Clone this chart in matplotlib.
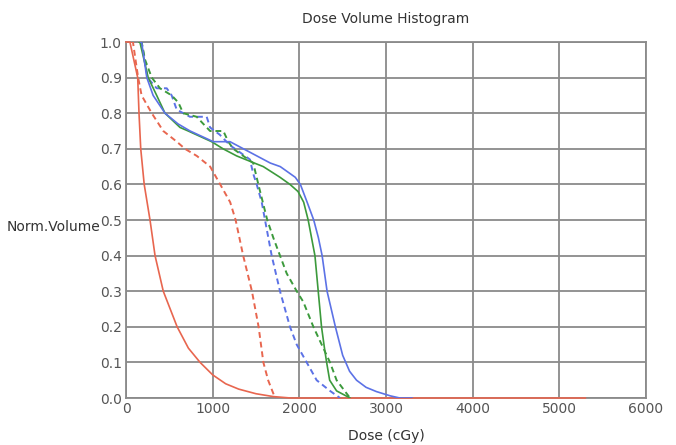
import matplotlib.pyplot as plt
import numpy as np

# dose (cGy) / normalised volume
red_solid_x = [0, 45, 135, 150, 170, 210, 277, 335, 430, 590, 720, 855, 1000, 1150, 1300, 1500, 1700, 1900, 5300]
red_solid_y = [1.0, 1.0, 0.9, 0.8, 0.7, 0.6, 0.5, 0.4, 0.3, 0.2, 0.14, 0.1, 0.065, 0.04, 0.025, 0.012, 0.004, 0.0, 0.0]

red_dash_x = [60, 80, 140, 180, 297, 430, 586, 680, 817, 971, 1087, 1202, 1265, 1352, 1453, 1530, 1585, 1640, 1720]
red_dash_y = [1.0, 1.0, 0.9, 0.85, 0.8, 0.75, 0.72, 0.7, 0.68, 0.65, 0.6, 0.55, 0.5, 0.4, 0.3, 0.2, 0.1, 0.05, 0.0]

blue_solid_x = [170, 180, 240, 313, 450, 600, 740, 1007, 1200, 1355, 1510, 1665, 1780, 1953, 2012, 2090, 2166,
                2220, 2263, 2320, 2416, 2500, 2580, 2660, 2770, 2890, 3050, 3160, 3300]
blue_solid_y = [1.0, 1.0, 0.9, 0.85, 0.8, 0.77, 0.75, 0.72, 0.72, 0.7, 0.68, 0.66, 0.65, 0.62, 0.6, 0.55, 0.5,
                0.45, 0.4, 0.3, 0.2, 0.12, 0.075, 0.05, 0.03, 0.018, 0.006, 0.0, 0.0]

green_solid_x = [150, 160, 256, 354, 450, 623, 718, 988, 1120, 1277, 1430, 1584, 1777, 1892, 1985, 2050, 2102,
                 2180, 2218, 2256, 2290, 2315, 2350, 2430, 2585]
green_solid_y = [1.0, 1.0, 0.9, 0.85, 0.8, 0.76, 0.75, 0.72, 0.7, 0.68, 0.665, 0.65, 0.62, 0.6, 0.58, 0.55, 0.5,
                 0.4, 0.3, 0.2, 0.14, 0.1, 0.05, 0.02, 0.0]

blue_dash_x = [170, 180, 248, 354, 470, 527, 585, 738, 931, 970, 1080, 1200, 1315, 1430, 1468, 1508, 1566, 1604,
               1681, 1777, 1892, 1970, 2085, 2200, 2354, 2470]
blue_dash_y = [1.0, 1.0, 0.9, 0.87, 0.87, 0.85, 0.81, 0.79, 0.79, 0.76, 0.74, 0.71, 0.69, 0.67, 0.63, 0.6, 0.55,
               0.5, 0.4, 0.3, 0.2, 0.15, 0.1, 0.05, 0.02, 0.0]

green_dash_x = [160, 180, 220, 297, 392, 527, 604, 660, 815, 892, 970, 1123, 1180, 1238, 1353, 1468, 1527, 1630,
                1700, 1777, 1854, 1970, 2046, 2162, 2354, 2430, 2585]
green_dash_y = [1.0, 1.0, 0.95, 0.9, 0.87, 0.85, 0.83, 0.8, 0.79, 0.77, 0.75, 0.75, 0.72, 0.7, 0.68, 0.66, 0.6,
                0.5, 0.45, 0.4, 0.35, 0.3, 0.27, 0.2, 0.1, 0.05, 0.0]

red = "#e8664f"
blue = "#5c72e6"
green = "#3c9a3c"
text_col = "#555555"

fig = plt.figure(figsize=(6.76, 4.45), dpi=100)
ax = fig.add_axes([0.1864, 0.1056, 0.7692, 0.8000])

ax.plot(red_solid_x, red_solid_y, color=red, lw=1.2, zorder=3, clip_on=False)
ax.plot(red_dash_x, red_dash_y, color=red, lw=1.4, ls=(0, (3, 2)), zorder=3)
ax.plot(blue_dash_x, blue_dash_y, color=blue, lw=1.4, ls=(0, (3, 2)), zorder=3)
ax.plot(green_dash_x, green_dash_y, color=green, lw=1.4, ls=(0, (3, 2)), zorder=3)
ax.plot(green_solid_x, green_solid_y, color=green, lw=1.2, zorder=3)
ax.plot(blue_solid_x, blue_solid_y, color=blue, lw=1.2, zorder=3)

ax.set_xlim(0, 6000)
ax.set_ylim(0, 1.0)
ax.set_xticks(np.arange(0, 6001, 1000))
ax.set_yticks(np.arange(0, 1.01, 0.1))
ax.set_yticklabels([f"{v:.1f}" for v in np.arange(0, 1.01, 0.1)])
ax.grid(True, color="#8a8a8a", lw=1.3)
for s in ax.spines.values():
    s.set_color("#8a8a8a")
    s.set_linewidth(1.3)
ax.tick_params(length=0, labelsize=10, colors=text_col, pad=3)

ax.set_title("Dose Volume Histogram", fontsize=10, color="#333333", pad=14)
ax.set_xlabel("Dose (cGy)", fontsize=10, color="#333333", labelpad=9)
ax.set_ylabel("Norm.Volume", fontsize=10, color="#333333", rotation=0, ha="right", va="center")
ax.yaxis.set_label_coords(-0.05, 0.48)

fig.savefig("out.png", dpi=100)
